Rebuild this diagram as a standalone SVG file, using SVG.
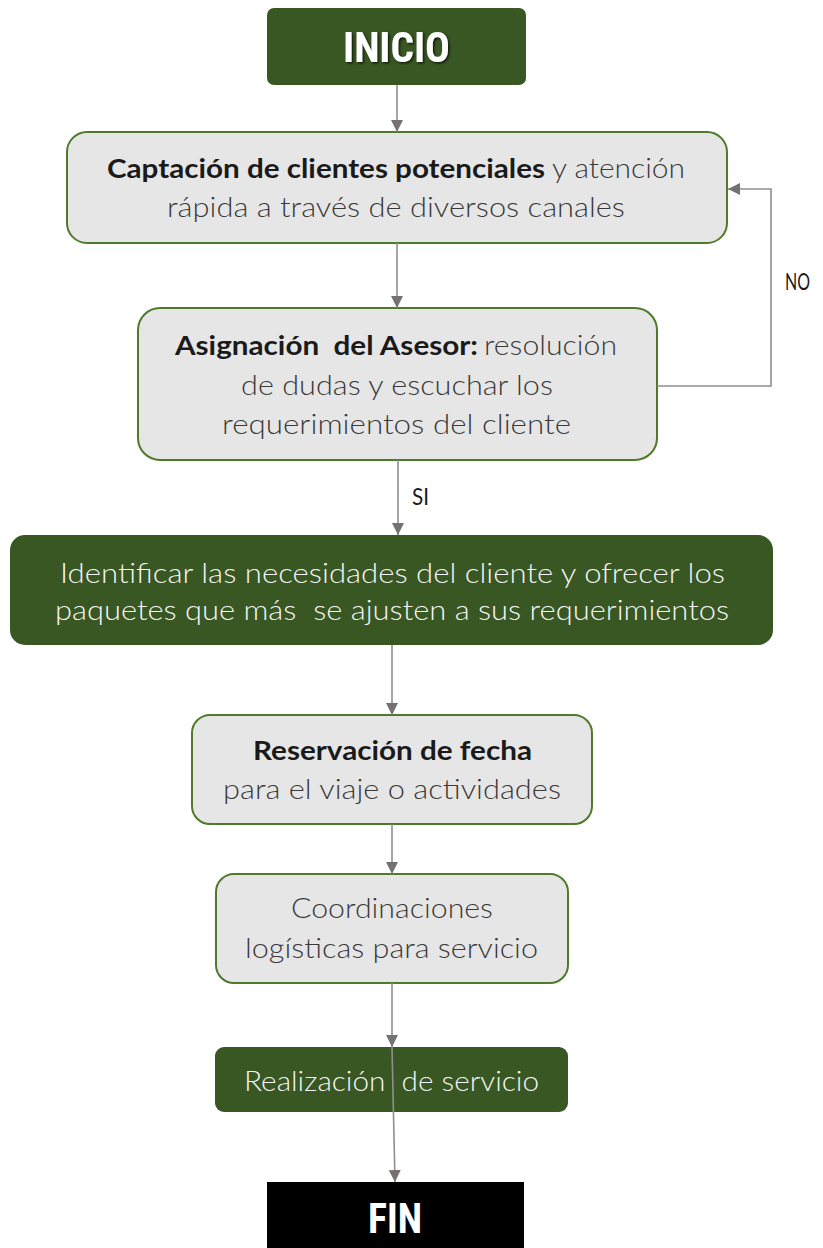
<svg xmlns="http://www.w3.org/2000/svg" width="823" height="1248" viewBox="0 0 823 1248">
<defs>
<style>
.light{fill:#e7e6e6;stroke:#4f7a2a;stroke-width:2}
.dark{fill:#385723}
.t{font-family:Lato,"Open Sans","Liberation Sans",sans-serif;font-size:27px}
.b{font-weight:bold;fill:#1a1a1a}
.r{font-weight:300;fill:#3a3a3a}
.w{font-weight:300;fill:#f4f4f4}
.big{font-family:"Liberation Sans Narrow","Roboto Condensed","Liberation Sans",sans-serif;font-weight:bold;font-size:42px;fill:#ffffff}
.lbl{font-family:Lato,"Open Sans","Liberation Sans",sans-serif;font-size:24px;fill:#1a1a1a}
.c{fill:none;stroke:#8f8f8f;stroke-width:1.6}
</style>
<marker id="ah" markerUnits="userSpaceOnUse" markerWidth="13" markerHeight="12" refX="12" refY="6" orient="auto">
<path d="M0,0 L12,6 L0,12 z" fill="#767171"/>
</marker>
<filter id="sh" x="-10%" y="-10%" width="130%" height="140%">
<feDropShadow dx="1.5" dy="1.5" stdDeviation="0.8" flood-color="#000" flood-opacity="0.7"/>
</filter>
</defs>

<g id="inicio">
<rect class="dark" x="267" y="8" width="259" height="77" rx="7"/>
<text class="big" x="343" y="62" textLength="107" lengthAdjust="spacingAndGlyphs" filter="url(#sh)">INICIO</text>
</g>

<g id="captacion">
<rect class="light" x="67" y="132" width="660" height="111" rx="20"/>
<text class="t b" x="107" y="178" textLength="438" lengthAdjust="spacingAndGlyphs">Captación de clientes potenciales</text>
<text class="t r" x="552" y="178" textLength="133" lengthAdjust="spacingAndGlyphs">y atención</text>
<text class="t r" x="167" y="217" textLength="458" lengthAdjust="spacingAndGlyphs">rápida a través de diversos canales</text>
</g>

<g id="asignacion">
<rect class="light" x="138" y="308" width="519" height="152" rx="22"/>
<text class="t b" x="175" y="355" textLength="303" lengthAdjust="spacingAndGlyphs" xml:space="preserve">Asignación  del Asesor:</text>
<text class="t r" x="484" y="355" textLength="133" lengthAdjust="spacingAndGlyphs">resolución</text>
<text class="t r" x="241" y="395" textLength="312" lengthAdjust="spacingAndGlyphs">de dudas y escuchar los</text>
<text class="t r" x="222" y="434" textLength="349" lengthAdjust="spacingAndGlyphs">requerimientos del cliente</text>
</g>

<g id="identificar">
<rect class="dark" x="10" y="535" width="763" height="110" rx="15"/>
<text class="t w" x="60" y="583" textLength="665" lengthAdjust="spacingAndGlyphs">Identificar las necesidades del cliente y ofrecer los</text>
<text class="t w" x="55" y="620" textLength="674" lengthAdjust="spacingAndGlyphs" xml:space="preserve">paquetes que más  se ajusten a sus requerimientos</text>
</g>

<g id="reservacion">
<rect class="light" x="192" y="715" width="400" height="109" rx="18"/>
<text class="t b" x="253" y="760" textLength="279" lengthAdjust="spacingAndGlyphs">Reservación de fecha</text>
<text class="t r" x="223" y="799" textLength="338" lengthAdjust="spacingAndGlyphs">para el viaje o actividades</text>
</g>

<g id="coordinaciones">
<rect class="light" x="216" y="874" width="352" height="109" rx="18"/>
<text class="t r" x="291" y="918" textLength="202" lengthAdjust="spacingAndGlyphs">Coordinaciones</text>
<text class="t r" x="245" y="958" textLength="293" lengthAdjust="spacingAndGlyphs">logísticas para servicio</text>
</g>

<g id="realizacion">
<rect class="dark" x="215" y="1047" width="353" height="65" rx="9"/>
<text class="t w" x="244" y="1091" textLength="295" lengthAdjust="spacingAndGlyphs" xml:space="preserve">Realización  de servicio</text>
</g>

<g id="fin">
<rect x="267" y="1182" width="257" height="66" fill="#000000"/>
<text class="big" x="368" y="1233" textLength="54" lengthAdjust="spacingAndGlyphs">FIN</text>
</g>

<g id="connectors">
<line class="c" x1="397" y1="85" x2="397" y2="132" marker-end="url(#ah)"/>
<line class="c" x1="397" y1="243" x2="397" y2="308" marker-end="url(#ah)"/>
<polyline class="c" points="657,386 771,386 771,189 728,189" marker-end="url(#ah)"/>
<line class="c" x1="398" y1="460" x2="398" y2="535" marker-end="url(#ah)"/>
<line class="c" x1="392" y1="645" x2="392" y2="715" marker-end="url(#ah)"/>
<line class="c" x1="392" y1="824" x2="392" y2="874" marker-end="url(#ah)"/>
<line class="c" x1="392" y1="983" x2="392" y2="1047" marker-end="url(#ah)"/>
<line class="c" x1="392" y1="1047" x2="395" y2="1182" marker-end="url(#ah)"/>
<text class="lbl" x="785" y="290" textLength="25" lengthAdjust="spacingAndGlyphs">NO</text>
<text class="lbl" x="412" y="505" textLength="17" lengthAdjust="spacingAndGlyphs">SI</text>
</g>
</svg>
